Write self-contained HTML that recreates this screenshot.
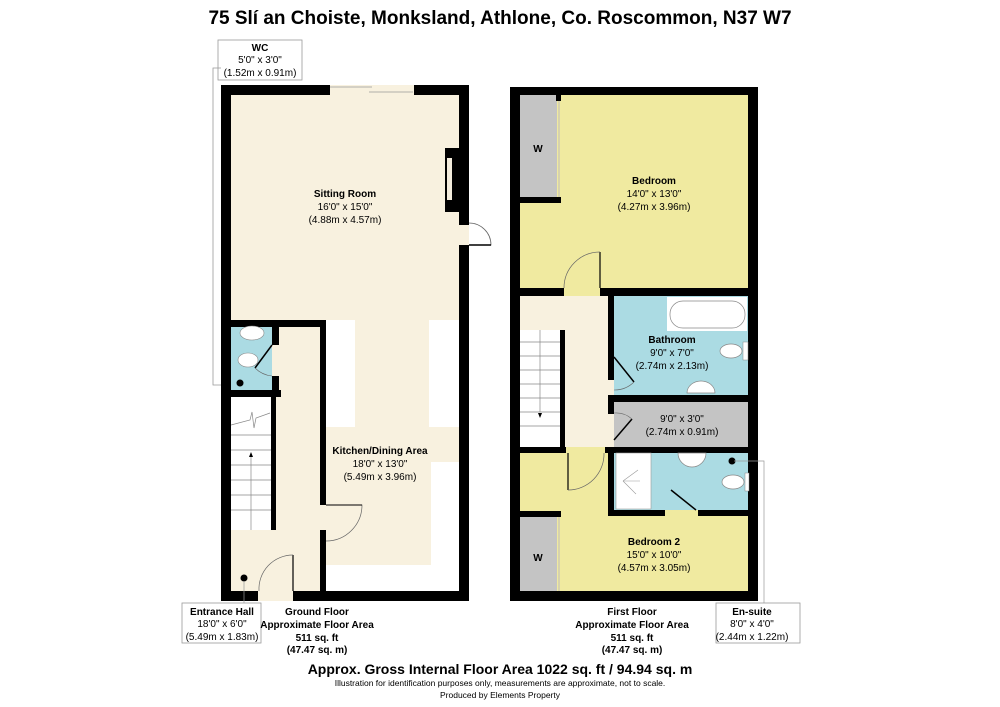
<!DOCTYPE html>
<html><head><meta charset="utf-8"><style>
html,body{margin:0;padding:0;background:#fff;}
svg{display:block;font-family:"Liberation Sans",Arial,sans-serif;}
.b{font-weight:bold;}
</style></head><body>
<svg width="1000" height="707" viewBox="0 0 1000 707">
<text x="500" y="24" text-anchor="middle" class="b" font-size="19">75 Slí an Choiste, Monksland, Athlone, Co. Roscommon, N37 W7</text>

<rect x="218" y="40" width="84" height="40" fill="#fff" stroke="#999" stroke-width="0.8"/>
<text x="260" y="51" text-anchor="middle" class="b" font-size="10">WC</text>
<text x="260" y="63" text-anchor="middle" font-size="10">5'0" x 3'0"</text>
<text x="260" y="76" text-anchor="middle" font-size="10">(1.52m x 0.91m)</text>
<polyline points="221,68 213,68 213,385 221,385" fill="none" stroke="#999" stroke-width="0.8"/>

<rect x="221" y="85" width="248" height="516" fill="#000"/>
<rect x="231" y="95" width="228" height="496" fill="#f8f1df"/>
<rect x="330" y="85" width="84" height="10" fill="#f8f1df"/>
<line x1="330" y1="87" x2="372" y2="87" stroke="#999" stroke-width="0.8"/>
<line x1="369" y1="92" x2="413" y2="92" stroke="#999" stroke-width="0.8"/>
<rect x="445" y="148" width="14" height="64" fill="#000"/>
<rect x="447" y="158" width="5" height="42" fill="#f3ecdc"/>
<rect x="459" y="225" width="10" height="20" fill="#f8f1df"/>
<path d="M469,245 L491,245 A22,22 0 0 0 469,223" fill="none" stroke="#666" stroke-width="0.8"/>
<line x1="469" y1="245" x2="491" y2="245" stroke="#000" stroke-width="1.5"/>
<rect x="326" y="320" width="29" height="107" fill="#fff"/>
<rect x="429" y="320" width="30" height="107" fill="#fff"/>
<rect x="431" y="462" width="28" height="103" fill="#fff"/>
<rect x="326" y="565" width="133" height="26" fill="#fff"/>
<rect x="221" y="320" width="105" height="7" fill="#000"/>
<rect x="231" y="327" width="41" height="63" fill="#abdbe3"/>
<rect x="221" y="390" width="60" height="7" fill="#000"/>
<rect x="272" y="320" width="7" height="25" fill="#000"/>
<rect x="272" y="376" width="7" height="18" fill="#000"/>
<line x1="272" y1="345" x2="255" y2="368" stroke="#000" stroke-width="1.5"/>
<path d="M255,368 A28,28 0 0 0 272,376" fill="none" stroke="#666" stroke-width="0.6"/>
<ellipse cx="252" cy="333" rx="12" ry="7" fill="#fff" stroke="#888" stroke-width="0.6"/>
<ellipse cx="248" cy="360" rx="10" ry="7" fill="#fff" stroke="#888" stroke-width="0.6"/>
<circle cx="240" cy="383" r="3.5" fill="#000"/>
<rect x="231" y="397" width="40" height="133" fill="#fff"/>
<rect x="271" y="394" width="5" height="136" fill="#000"/>
<g stroke="#888" stroke-width="0.7">
<line x1="231" y1="435" x2="271" y2="435"/><line x1="231" y1="450" x2="271" y2="450"/>
<line x1="231" y1="465" x2="271" y2="465"/><line x1="231" y1="480" x2="271" y2="480"/>
<line x1="231" y1="495" x2="271" y2="495"/><line x1="231" y1="510" x2="271" y2="510"/>
<line x1="251" y1="455" x2="251" y2="530"/>
<polyline points="231,425 250,420 252,412 254,428 256,418 270,413" fill="none"/>
</g>
<path d="M251,452 l-2,5 h4 z" fill="#000"/>
<rect x="320" y="320" width="6" height="185" fill="#000"/>
<rect x="320" y="530" width="6" height="61" fill="#000"/>
<path d="M326,505 L362,505 A36,36 0 0 1 326,541" fill="none" stroke="#666" stroke-width="0.7"/>
<line x1="326" y1="505" x2="362" y2="505" stroke="#000" stroke-width="1"/>
<rect x="258" y="591" width="35" height="10" fill="#f8f1df"/>
<line x1="293" y1="555" x2="293" y2="591" stroke="#000" stroke-width="1.2"/>
<path d="M293,555 A34,34 0 0 0 259,591" fill="none" stroke="#666" stroke-width="0.7"/>
<circle cx="244" cy="578" r="3.5" fill="#000"/>
<line x1="244" y1="581" x2="244" y2="603" stroke="#999" stroke-width="0.7"/>

<text x="345" y="197" text-anchor="middle" class="b" font-size="10">Sitting Room</text>
<text x="345" y="210" text-anchor="middle" font-size="10">16'0" x 15'0"</text>
<text x="345" y="223" text-anchor="middle" font-size="10">(4.88m x 4.57m)</text>
<text x="380" y="454" text-anchor="middle" class="b" font-size="10">Kitchen/Dining Area</text>
<text x="380" y="467" text-anchor="middle" font-size="10">18'0" x 13'0"</text>
<text x="380" y="480" text-anchor="middle" font-size="10">(5.49m x 3.96m)</text>

<rect x="182" y="603" width="79" height="40" fill="#fff" stroke="#999" stroke-width="0.8"/>
<text x="222" y="615" text-anchor="middle" class="b" font-size="10">Entrance Hall</text>
<text x="222" y="627" text-anchor="middle" font-size="10">18'0" x 6'0"</text>
<text x="222" y="640" text-anchor="middle" font-size="10">(5.49m x 1.83m)</text>
<g text-anchor="middle" class="b" font-size="10">
<text x="317" y="615">Ground Floor</text>
<text x="317" y="628">Approximate Floor Area</text>
<text x="317" y="641">511 sq. ft</text>
<text x="317" y="653">(47.47 sq. m)</text>
<text x="632" y="615">First Floor</text>
<text x="632" y="628">Approximate Floor Area</text>
<text x="632" y="641">511 sq. ft</text>
<text x="632" y="653">(47.47 sq. m)</text>
</g>

<rect x="510" y="87" width="248" height="514" fill="#000"/>
<rect x="520" y="95" width="228" height="496" fill="#f0eaa0"/>
<rect x="520" y="95" width="37" height="102" fill="#c4c4c4"/>
<rect x="556" y="95" width="5" height="6" fill="#000"/>
<rect x="520" y="197" width="41" height="6" fill="#000"/>
<line x1="559" y1="101" x2="559" y2="197" stroke="#bbb" stroke-width="1"/>
<text x="538" y="152" text-anchor="middle" class="b" font-size="10">W</text>
<text x="654" y="184" text-anchor="middle" class="b" font-size="10">Bedroom</text>
<text x="654" y="197" text-anchor="middle" font-size="10">14'0" x 13'0"</text>
<text x="654" y="210" text-anchor="middle" font-size="10">(4.27m x 3.96m)</text>
<rect x="510" y="288" width="54" height="8" fill="#000"/>
<rect x="600" y="288" width="158" height="8" fill="#000"/>
<line x1="600" y1="252" x2="600" y2="288" stroke="#000" stroke-width="1.2"/>
<path d="M600,252 A36,36 0 0 0 564,288" fill="none" stroke="#666" stroke-width="0.7"/>
<rect x="520" y="296" width="94" height="151" fill="#f8f1df"/>
<rect x="520" y="330" width="40" height="118" fill="#fff"/>
<rect x="560" y="330" width="5" height="118" fill="#000"/>
<g stroke="#888" stroke-width="0.7">
<line x1="520" y1="342" x2="560" y2="342"/><line x1="520" y1="356" x2="560" y2="356"/>
<line x1="520" y1="370" x2="560" y2="370"/><line x1="520" y1="384" x2="560" y2="384"/>
<line x1="520" y1="398" x2="560" y2="398"/><line x1="520" y1="412" x2="560" y2="412"/>
<line x1="520" y1="426" x2="560" y2="426"/><line x1="540" y1="330" x2="540" y2="412"/>
</g>
<path d="M540,418 l-2,-5 h4 z" fill="#000"/>
<rect x="608" y="296" width="6" height="84" fill="#000"/>
<rect x="614" y="296" width="134" height="99" fill="#abdbe3"/>
<rect x="667" y="297" width="80" height="34" fill="#fff"/>
<rect x="670" y="301" width="75" height="27" rx="13" fill="#fff" stroke="#888" stroke-width="0.7"/>
<ellipse cx="731" cy="351" rx="11" ry="7" fill="#fff" stroke="#888" stroke-width="0.7"/>
<rect x="743" y="342" width="5" height="18" fill="#fff" stroke="#888" stroke-width="0.5"/>
<path d="M687,393 A14,12 0 0 1 715,393 Z" fill="#fff" stroke="#888" stroke-width="0.7"/>
<line x1="614" y1="357" x2="634" y2="382" stroke="#000" stroke-width="1.5"/>
<path d="M634,382 A28,28 0 0 1 614,390" fill="none" stroke="#666" stroke-width="0.6"/>
<text x="672" y="343" text-anchor="middle" class="b" font-size="10">Bathroom</text>
<text x="672" y="356" text-anchor="middle" font-size="10">9'0" x 7'0"</text>
<text x="672" y="369" text-anchor="middle" font-size="10">(2.74m x 2.13m)</text>
<rect x="608" y="395" width="150" height="7" fill="#000"/>
<rect x="608" y="402" width="6" height="12" fill="#000"/>
<rect x="614" y="402" width="134" height="45" fill="#c4c4c4"/>
<line x1="614" y1="440" x2="632" y2="419" stroke="#000" stroke-width="1.5"/>
<path d="M614,413 A24,24 0 0 1 632,419" fill="none" stroke="#666" stroke-width="0.6"/>
<text x="682" y="422" text-anchor="middle" font-size="10">9'0" x 3'0"</text>
<text x="682" y="435" text-anchor="middle" font-size="10">(2.74m x 0.91m)</text>
<rect x="510" y="447" width="56" height="6" fill="#000"/>
<rect x="605" y="447" width="153" height="6" fill="#000"/>
<line x1="568" y1="453" x2="568" y2="490" stroke="#000" stroke-width="1.2"/>
<path d="M568,490 A36,36 0 0 0 604,453" fill="none" stroke="#666" stroke-width="0.7"/>
<rect x="608" y="453" width="6" height="63" fill="#000"/>
<rect x="614" y="453" width="134" height="57" fill="#abdbe3"/>
<rect x="616" y="453" width="35" height="56" fill="#fff" stroke="#999" stroke-width="0.6"/>
<g stroke="#999" stroke-width="0.6"><line x1="623" y1="481" x2="638" y2="470"/><line x1="623" y1="481" x2="640" y2="481"/><line x1="623" y1="481" x2="636" y2="494"/></g>
<path d="M678,453 L706,453 A14,14 0 0 1 678,453 Z" fill="#fff" stroke="#888" stroke-width="0.7"/>
<ellipse cx="733" cy="482" rx="11" ry="7" fill="#fff" stroke="#888" stroke-width="0.7"/>
<rect x="745" y="473" width="4" height="18" fill="#fff" stroke="#888" stroke-width="0.5"/>
<circle cx="732" cy="461" r="3.5" fill="#000"/>
<rect x="608" y="510" width="57" height="6" fill="#000"/>
<rect x="698" y="510" width="60" height="6" fill="#000"/>
<line x1="671" y1="490" x2="696" y2="510" stroke="#000" stroke-width="1.5"/>
<polyline points="734,461 764,461 764,603" fill="none" stroke="#999" stroke-width="0.7"/>
<rect x="520" y="517" width="37" height="74" fill="#c4c4c4"/>
<rect x="520" y="511" width="41" height="6" fill="#000"/>
<line x1="559" y1="517" x2="559" y2="591" stroke="#bbb" stroke-width="1"/>
<text x="538" y="561" text-anchor="middle" class="b" font-size="10">W</text>
<text x="654" y="545" text-anchor="middle" class="b" font-size="10">Bedroom 2</text>
<text x="654" y="558" text-anchor="middle" font-size="10">15'0" x 10'0"</text>
<text x="654" y="571" text-anchor="middle" font-size="10">(4.57m x 3.05m)</text>

<rect x="716" y="603" width="84" height="40" fill="#fff" stroke="#999" stroke-width="0.8"/>
<text x="752" y="615" text-anchor="middle" class="b" font-size="10">En-suite</text>
<text x="752" y="627" text-anchor="middle" font-size="10">8'0" x 4'0"</text>
<text x="752" y="640" text-anchor="middle" font-size="10">(2.44m x 1.22m)</text>

<text x="500" y="674" text-anchor="middle" class="b" font-size="14">Approx. Gross Internal Floor Area 1022 sq. ft / 94.94 sq. m</text>
<text x="500" y="686" text-anchor="middle" font-size="8.5">Illustration for identification purposes only, measurements are approximate, not to scale.</text>
<text x="500" y="698" text-anchor="middle" font-size="8.5">Produced by Elements Property</text>
</svg>
</body></html>
